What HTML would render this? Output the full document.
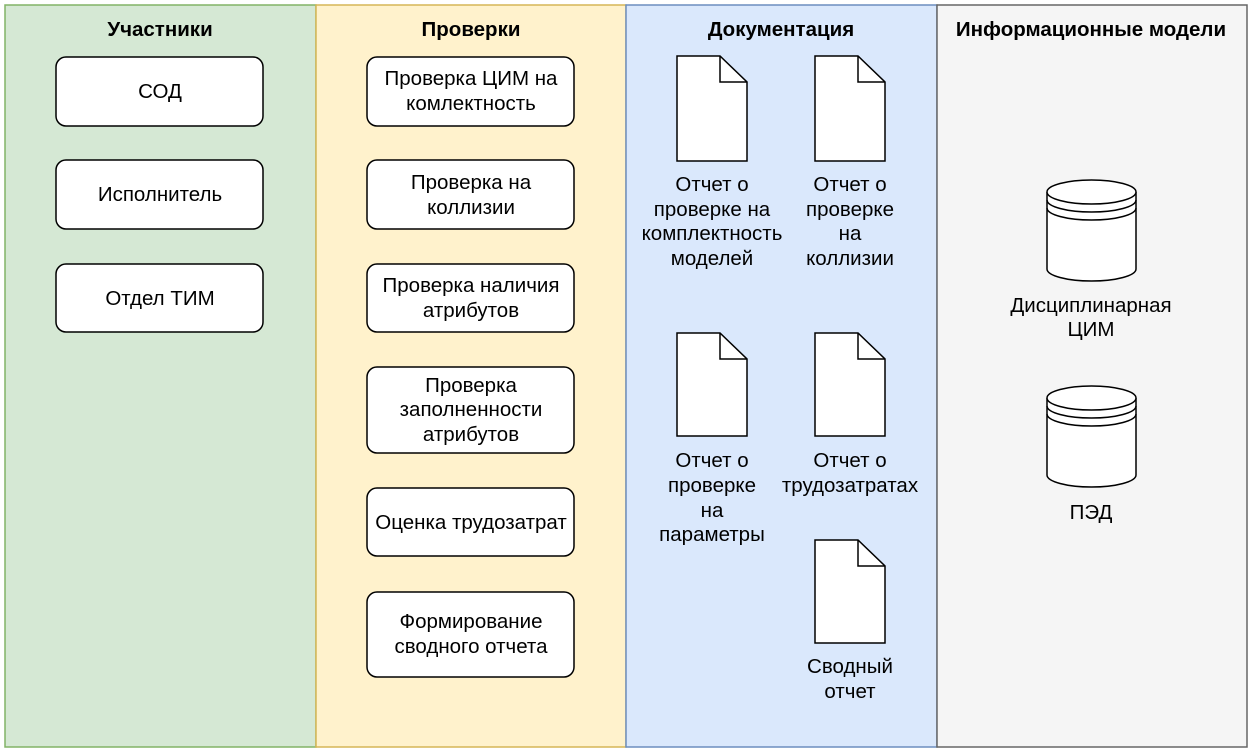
<!DOCTYPE html>
<html><head><meta charset="utf-8"><style>body{margin:0;background:#fff}svg{display:block}text{font-family:"Liberation Sans",sans-serif;font-size:20.5px;fill:#000;text-anchor:middle}</style></head><body>
<svg width="1252" height="752" viewBox="0 0 1252 752" xmlns="http://www.w3.org/2000/svg">
<rect x="5" y="5" width="311" height="742" fill="#d5e8d4" stroke="#82b366" stroke-width="1.5"/>
<rect x="316" y="5" width="310" height="742" fill="#fff2cc" stroke="#d6b656" stroke-width="1.5"/>
<rect x="626" y="5" width="311" height="742" fill="#dae8fc" stroke="#6c8ebf" stroke-width="1.5"/>
<rect x="937" y="5" width="310" height="742" fill="#f5f5f5" stroke="#666666" stroke-width="1.5"/>
<text x="160" y="36" font-weight="bold">Участники</text>
<text x="471" y="36" font-weight="bold">Проверки</text>
<text x="781" y="36" font-weight="bold">Документация</text>
<text x="1091" y="36" font-weight="bold" fill="#333">Информационные модели</text>
<g fill="#fff" stroke="#000" stroke-width="1.5">
<rect x="56" y="57" width="207" height="69" rx="10"/>
<rect x="56" y="160" width="207" height="69" rx="10"/>
<rect x="56" y="264" width="207" height="68" rx="10"/>
<rect x="367" y="57" width="207" height="69" rx="10"/>
<rect x="367" y="160" width="207" height="69" rx="10"/>
<rect x="367" y="264" width="207" height="68" rx="10"/>
<rect x="367" y="367" width="207" height="86" rx="10"/>
<rect x="367" y="488" width="207" height="68" rx="10"/>
<rect x="367" y="592" width="207" height="85" rx="10"/>
</g>
<text x="160" y="98">СОД</text>
<text x="160" y="201">Исполнитель</text>
<text x="160" y="305">Отдел ТИМ</text>
<text x="471" y="85">Проверка ЦИМ на</text><text x="471" y="110">комлектность</text>
<text x="471" y="189">Проверка на</text><text x="471" y="214">коллизии</text>
<text x="471" y="292">Проверка наличия</text><text x="471" y="317">атрибутов</text>
<text x="471" y="392">Проверка</text><text x="471" y="416">заполненности</text><text x="471" y="441">атрибутов</text>
<text x="471" y="529">Оценка трудозатрат</text>
<text x="471" y="628">Формирование</text><text x="471" y="653">сводного отчета</text>
<g fill="#fff" stroke="#000" stroke-width="1.5">
<path d="M677 56h43l27 26v79h-70z"/><path d="M720 56v26h27" fill="none"/>
<path d="M815 56h43l27 26v79h-70z"/><path d="M858 56v26h27" fill="none"/>
<path d="M677 333h43l27 26v77h-70z"/><path d="M720 333v26h27" fill="none"/>
<path d="M815 333h43l27 26v77h-70z"/><path d="M858 333v26h27" fill="none"/>
<path d="M815 540h43l27 26v77h-70z"/><path d="M858 540v26h27" fill="none"/>
</g>
<text x="712" y="191">Отчет о</text><text x="712" y="216">проверке на</text><text x="712" y="240">комплектность</text><text x="712" y="265">моделей</text>
<text x="850" y="191">Отчет о</text><text x="850" y="216">проверке</text><text x="850" y="240">на</text><text x="850" y="265">коллизии</text>
<text x="712" y="467">Отчет о</text><text x="712" y="492">проверке</text><text x="712" y="517">на</text><text x="712" y="541">параметры</text>
<text x="850" y="467">Отчет о</text><text x="850" y="492">трудозатратах</text>
<text x="850" y="673">Сводный</text><text x="850" y="698">отчет</text>
<g fill="#fff" stroke="#000" stroke-width="1.5">
<path d="M1047 192v77a44.5 12 0 0 0 89 0v-77"/><ellipse cx="1091.5" cy="192" rx="44.5" ry="12"/>
<path d="M1047 200a44.5 12 0 0 0 89 0M1047 208a44.5 12 0 0 0 89 0" fill="none"/>
<path d="M1047 398v77a44.5 12 0 0 0 89 0v-77"/><ellipse cx="1091.5" cy="398" rx="44.5" ry="12"/>
<path d="M1047 406a44.5 12 0 0 0 89 0M1047 414a44.5 12 0 0 0 89 0" fill="none"/>
</g>
<text x="1091" y="312">Дисциплинарная</text><text x="1091" y="336">ЦИМ</text>
<text x="1091" y="519">ПЭД</text>
</svg>
</body></html>
